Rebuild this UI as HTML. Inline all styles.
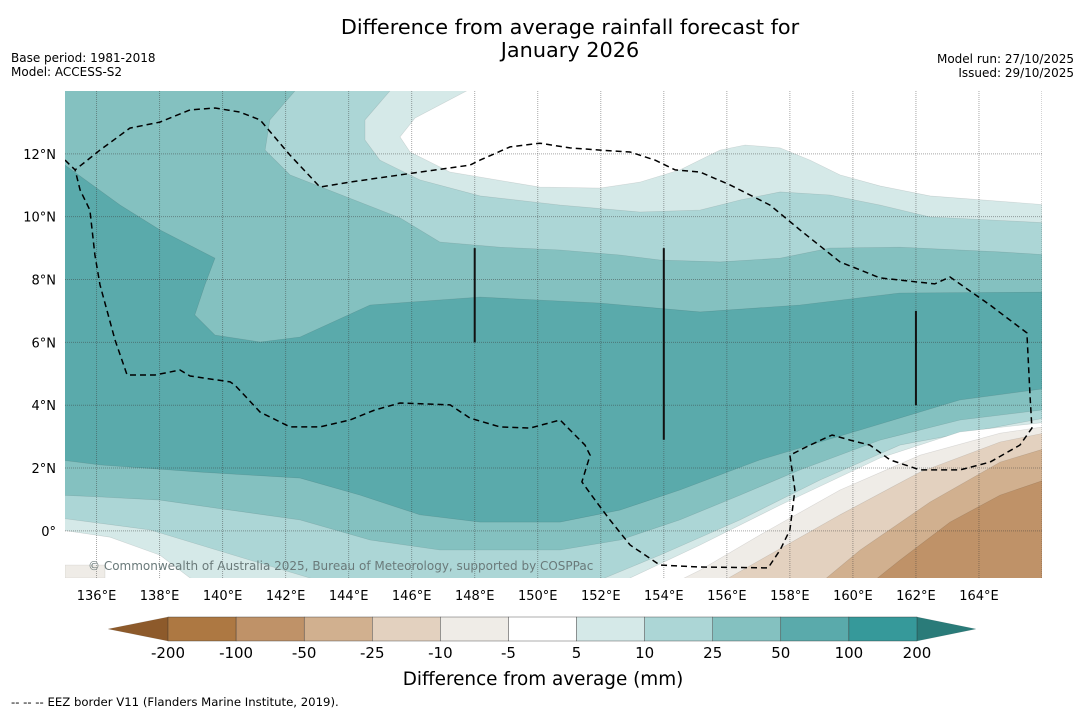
<!DOCTYPE html>
<html><head><meta charset="utf-8">
<style>
body{margin:0;background:#fff;}
svg text{font-family:"DejaVu Sans","Liberation Sans",sans-serif;}
</style></head>
<body>
<svg id="chart" width="1085" height="713" viewBox="0 0 1085 713" xmlns="http://www.w3.org/2000/svg">
<text x="570" y="34" font-size="20.8" text-anchor="middle">Difference from average rainfall forecast for</text>
<text x="570" y="57" font-size="20.8" text-anchor="middle">January 2026</text>
<text x="11" y="62" font-size="12">Base period: 1981-2018</text>
<text x="11" y="76" font-size="12">Model: ACCESS-S2</text>
<text x="1074" y="63" font-size="12" text-anchor="end">Model run: 27/10/2025</text>
<text x="1074" y="77" font-size="12" text-anchor="end">Issued: 29/10/2025</text>
<defs><clipPath id="mapclip"><rect x="65" y="91" width="977" height="487"/></clipPath></defs>
<g id="map" clip-path="url(#mapclip)"></g>
<g id="axes"></g>
<g id="cbar"></g>
<text x="543" y="685" font-size="18.4" text-anchor="middle">Difference from average (mm)</text>
<text x="11" y="706" font-size="11.7">--  --  -- EEZ border V11 (Flanders Marine Institute, 2019).</text>
</svg>
<script>
// Axis mapping
const lonMin=135.0, lonMax=166.0, latMin=-1.5, latMax=14.0;
const X0=65, X1=1042, Y0=578, Y1=91;
function xs(lon){return X0+(lon-lonMin)/(lonMax-lonMin)*(X1-X0);}
function ys(lat){return Y0-(lat-latMin)/(latMax-latMin)*(Y0-Y1);}
function px2lon(x){return lonMin+(x-X0)/(X1-X0)*(lonMax-lonMin);}
function px2lat(y){return latMin+(Y0-y)/(Y0-Y1)*(latMax-latMin);}

const lonTicks=[136,138,140,142,144,146,148,150,152,154,156,158,160,162,164];
const latTicks=[0,2,4,6,8,10,12];
const cbarLabels=["-200","-100","-50","-25","-10","-5","5","10","25","50","100","200"];
const cbarColors=["#ad7842","#bf9268","#d1b08f","#e3d1bf","#efece7","#ffffff","#d5e9e8","#acd6d6","#84c1c0","#5aaaab","#36999a"];

// contour boundaries as [lon,lat]
const conv=a=>a.map(p=>[+px2lon(p[0]).toFixed(2),+px2lat(p[1]).toFixed(2)]);
const N2=conv([[300,85],[270,120],[265,150],[290,175],[400,218],[440,242],[500,247],[560,250],[620,255],[660,260],[720,262],[780,258],[830,248],[900,247],[1000,252],[1050,255]]);
const N3=conv([[395,85],[365,120],[365,140],[380,160],[420,180],[480,196],[560,205],[640,212],[700,210],[740,200],[780,192],[830,195],[880,205],[930,217],[1050,223]]);
const WB=conv([[478,85],[415,118],[400,137],[410,152],[450,172],[540,187],[600,188],[640,182],[680,170],[720,150],[745,145],[780,148],[810,160],[840,175],[880,186],[930,196],[1050,205]]);
const N1=conv([[60,160],[65,165],[120,205],[160,230],[215,258],[205,285],[195,315],[215,335],[260,342],[300,337],[370,305],[480,297],[600,303],[700,312],[800,305],[900,293],[1050,292]]);
const S1=conv([[60,460],[100,465],[200,472],[300,478],[360,495],[420,515],[480,522],[560,522],[620,510],[680,490],[760,460],[860,430],[960,400],[1050,388]]);
const S2=conv([[60,495],[100,497],[160,500],[230,510],[300,520],[370,540],[440,550],[500,550],[560,550],[620,540],[680,520],[740,495],[800,470],[880,440],[960,420],[1050,409]]);
const S3=conv([[60,518],[150,530],[250,560],[310,578],[400,595],[560,595],[600,580],[660,555],[740,520],[820,480],[900,445],[1050,417]]);
const S4=conv([[60,530],[110,537],[160,555],[190,578],[300,600],[600,600],[630,578],[700,545],[780,505],[880,458],[960,432],[1050,422]]);
const B1=conv([[640,600],[700,570],[760,535],[840,490],[920,455],[1000,433],[1050,426]]);
const B2=conv([[690,600],[760,560],[840,515],[920,472],[1000,442],[1050,432]]);
const B3=conv([[800,600],[860,550],[930,502],[1000,462],[1050,447]]);
const B4=conv([[850,600],[900,560],[950,522],[1000,495],[1050,478]]);
const EEZ=conv([[65,160],[75,170],[100,150],[130,128],[160,122],[190,110],[215,108],[240,112],[260,120],[290,155],[320,187],[350,182],[400,175],[470,165],[480,160],[510,147],[540,143],[570,148],[600,150],[630,152],[655,160],[675,170],[700,172],[730,185],[770,205],[800,230],[840,262],[880,278],[935,284],[950,277],[990,305],[1027,333],[1030,395],[1032,428],[1020,445],[990,462],[960,470],[920,470],[890,460],[870,445],[850,440],[832,435],[810,445],[790,455],[795,490],[790,530],[780,550],[768,568],[700,567],[660,565],[630,545],[610,520],[595,500],[582,482],[590,455],[585,445],[560,420],[530,428],[500,427],[470,418],[450,405],[400,403],[375,410],[350,420],[320,427],[290,427],[260,412],[235,385],[230,382],[190,376],[180,370],[155,375],[127,375],[115,340],[100,285],[95,255],[90,210],[80,190],[75,170]]);
const ridges=[[148,6.0,9.0],[154,2.9,9.0],[162,4.0,7.0]];

const NS="http://www.w3.org/2000/svg";
const map=document.getElementById('map');
function pts(a){return a.map(p=>xs(p[0]).toFixed(1)+","+ys(p[1]).toFixed(1)).join(" ");}
function poly(parent,points,fill,name){const e=document.createElementNS(NS,'polygon');e.setAttribute('points',points);e.setAttribute('fill',fill);e.setAttribute('stroke','rgba(0,0,0,0.12)');e.setAttribute('stroke-width','0.6');


parent.appendChild(e);}
const bg=document.createElementNS(NS,'rect');bg.setAttribute('x',X0);bg.setAttribute('y',Y1);bg.setAttribute('width',X1-X0);bg.setAttribute('height',Y0-Y1);bg.setAttribute('fill','#84c1c0');


map.appendChild(bg);
const TR=" 1060,80", BR=" 1060,620 40,620";
poly(map,pts(N2)+TR,"#acd6d6","band-10-25-north");
poly(map,pts(N3)+TR,"#d5e9e8","band-5-10-north");
poly(map,pts(WB)+TR,"#ffffff","band-neutral-north");
poly(map,pts(N1)+" "+pts(S1.slice().reverse()),"#5aaaab","band-50-100");
poly(map,pts(S2)+BR,"#acd6d6","band-10-25-south");
poly(map,pts(S3)+BR,"#d5e9e8","band-5-10-south");
poly(map,pts(S4)+BR,"#ffffff","band-neutral-south");
poly(map,pts(B1)+" 1060,620 600,620","#efece7","band-minus5-10");
poly(map,pts(B2)+" 1060,620 600,620","#e3d1bf","band-minus10-25");
poly(map,pts(B3)+" 1060,620 700,620","#d1b08f","band-minus25-50");
poly(map,pts(B4)+" 1060,620 800,620","#bf9268","band-minus50-100");
poly(map,"65,565 105,565 105,578 65,578","#efece7","band-minus5-10-corner");
// grid
lonTicks.concat([166]).forEach(l=>{const e=document.createElementNS(NS,'line');e.setAttribute('x1',xs(l));e.setAttribute('x2',xs(l));e.setAttribute('y1',Y1);e.setAttribute('y2',Y0);e.setAttribute('stroke','rgba(60,60,60,0.45)');e.setAttribute('stroke-dasharray','1,1');


map.appendChild(e);});
latTicks.forEach(l=>{const e=document.createElementNS(NS,'line');e.setAttribute('x1',X0);e.setAttribute('x2',X1);e.setAttribute('y1',ys(l));e.setAttribute('y2',ys(l));e.setAttribute('stroke','rgba(60,60,60,0.45)');e.setAttribute('stroke-dasharray','1,1');


map.appendChild(e);});
// ridges
ridges.forEach(r=>{const e=document.createElementNS(NS,'line');e.setAttribute('x1',xs(r[0]));e.setAttribute('x2',xs(r[0]));e.setAttribute('y1',ys(r[1]));e.setAttribute('y2',ys(r[2]));e.setAttribute('stroke','#111');e.setAttribute('stroke-width','2');


map.appendChild(e);});
// EEZ
const ez=document.createElementNS(NS,'polyline');ez.setAttribute('points',pts(EEZ));ez.setAttribute('fill','none');ez.setAttribute('stroke','#000');ez.setAttribute('stroke-width','1.5');ez.setAttribute('stroke-dasharray','6,4');


map.appendChild(ez);
const cp=document.createElementNS(NS,'text');cp.setAttribute('x',88);cp.setAttribute('y',570);cp.setAttribute('font-size','12');cp.setAttribute('fill','#6a7a7a');cp.textContent='© Commonwealth of Australia 2025, Bureau of Meteorology, supported by COSPPac';


map.appendChild(cp);
// axes labels
const ax=document.getElementById('axes');
lonTicks.forEach(l=>{const t=document.createElementNS(NS,'text');t.setAttribute('x',xs(l));t.setAttribute('y',600);t.setAttribute('font-size','13');t.setAttribute('text-anchor','middle');t.textContent=l+'°E';


ax.appendChild(t);});
latTicks.forEach(l=>{const t=document.createElementNS(NS,'text');t.setAttribute('x',56);t.setAttribute('y',ys(l)+5);t.setAttribute('font-size','13');t.setAttribute('text-anchor','end');t.textContent=l===0?'0°':l+'°N';


ax.appendChild(t);});
// colorbar
const cb=document.getElementById('cbar');
const cx0=168, cx1=917, cy0=617, cy1=641, bw=(cx1-cx0)/cbarColors.length;
poly(cb,`108,629 ${cx0},${cy0} ${cx0},${cy1}`,"#8d5a2b","colorbar-arrow-low");
poly(cb,`976,629 ${cx1},${cy0} ${cx1},${cy1}`,"#2a7b79","colorbar-arrow-high");
cbarColors.forEach((c,i)=>{const r=document.createElementNS(NS,'rect');r.setAttribute('x',cx0+i*bw);r.setAttribute('y',cy0);r.setAttribute('width',bw);r.setAttribute('height',cy1-cy0);r.setAttribute('fill',c);r.setAttribute('stroke','#333');r.setAttribute('stroke-width','0.4');


cb.appendChild(r);});
cbarLabels.forEach((s,i)=>{const t=document.createElementNS(NS,'text');t.setAttribute('x',cx0+i*bw);t.setAttribute('y',658);t.setAttribute('font-size','15');t.setAttribute('text-anchor','middle');t.textContent=s;


cb.appendChild(t);});
</script>
</body></html>
